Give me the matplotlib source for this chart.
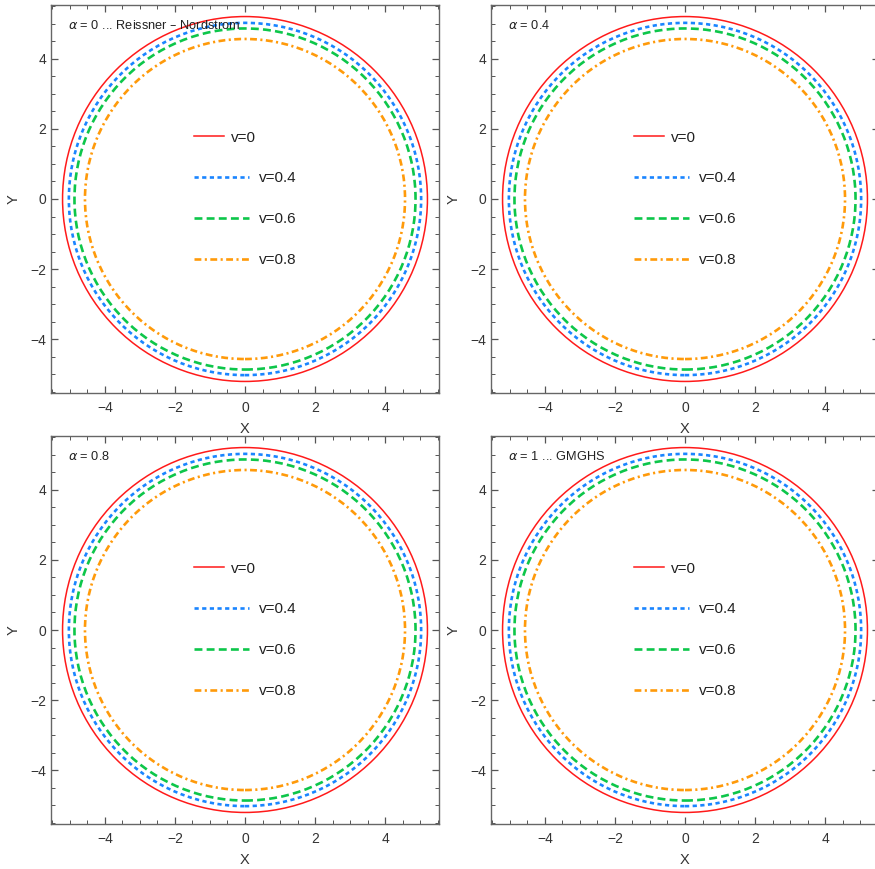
import matplotlib
matplotlib.use("Agg")
import matplotlib.pyplot as plt
from matplotlib.patches import Circle
from matplotlib.lines import Line2D
from matplotlib.ticker import MultipleLocator

plt.rcParams["font.family"] = ["Liberation Sans", "DejaVu Sans"]
plt.rcParams["mathtext.fontset"] = "dejavusans"

# shadow radii for each velocity (same in every panel)
velocities = ["v=0", "v=0.4", "v=0.6", "v=0.8"]
radii = [5.21, 5.03, 4.87, 4.57]
panel_notes = [r"$\alpha$ = 0 ... Reissner – Nordstrom",
               r"$\alpha$ = 0.4",
               r"$\alpha$ = 0.8",
               r"$\alpha$ = 1 ... GMGHS"]

colors = ["#ff1a1a", "#1a85ff", "#0dc64a", "#ff9a0a"]
widths = [1.1, 1.9, 1.9, 1.9]
dashes = [None, (1.6, 1.3), (3.0, 1.6), (2.6, 1.3, 0.8, 1.3)]

fig = plt.figure(figsize=(8.75, 8.69), dpi=100)
W, H = 875, 869
boxes = [(51, 5), (491, 5), (51, 436), (491, 436)]
size = 388

for k, (x0, y0) in enumerate(boxes):
    ax = fig.add_axes([x0 / W, 1 - (y0 + size) / H, size / W, size / H])
    handles = []
    for r, c, lw, ds, lab in zip(radii, colors, widths, dashes, velocities):
        circ = Circle((0, 0), r, fill=False, edgecolor=c, linewidth=lw)
        if ds is not None:
            circ.set_linestyle((0, ds))
        ax.add_patch(circ)
        h = Line2D([], [], color=c, linewidth=lw)
        if ds is not None:
            h.set_dashes(ds)
        handles.append(h)
    ax.set_xlim(-5.54, 5.54)
    ax.set_ylim(-5.54, 5.54)
    ax.set_aspect("equal", adjustable="box")
    ax.xaxis.set_major_locator(MultipleLocator(2))
    ax.yaxis.set_major_locator(MultipleLocator(2))
    ax.xaxis.set_minor_locator(MultipleLocator(0.5))
    ax.yaxis.set_minor_locator(MultipleLocator(0.5))
    ax.tick_params(which="both", direction="in", top=True, right=True,
                   color="#555555", labelcolor="#333333", labelsize=10)
    ax.tick_params(which="major", length=5, width=0.9)
    ax.tick_params(which="minor", length=3, width=0.7)
    ax.tick_params(axis="x", pad=6)
    ax.set_xticks([-4, -2, 0, 2, 4])
    ax.set_xticklabels(["−4", "−2", "0", "2", "4"])
    ax.set_yticks([-4, -2, 0, 2, 4])
    ax.set_yticklabels(["−4", "−2", "0", "2", "4"])
    for sp in ax.spines.values():
        sp.set_color("#666666")
        sp.set_linewidth(1.0)
    ax.set_xlabel("X", fontsize=10.5, color="#333333", labelpad=5)
    ax.set_ylabel("Y", fontsize=10.5, color="#333333", labelpad=7)
    ax.text(0.045, 0.965, panel_notes[k], transform=ax.transAxes,
            fontsize=9.2, color="#222222", va="top", ha="left")
    # first entry has a shorter sample line, as in the original
    leg0 = ax.legend(handles[:1], velocities[:1], loc="center left",
                     bbox_to_anchor=(0.35, 0.658), frameon=False,
                     borderpad=0, handlelength=1.96, handletextpad=0.46,
                     fontsize=11, labelcolor="#222222")
    ax.add_artist(leg0)
    ax.legend(handles[1:], velocities[1:], loc="center left",
              bbox_to_anchor=(0.35, 0.448), frameon=False,
              borderpad=0, handlelength=3.6, handletextpad=0.65,
              labelspacing=1.75, fontsize=11, labelcolor="#222222")

fig.savefig("out.png", dpi=100)
